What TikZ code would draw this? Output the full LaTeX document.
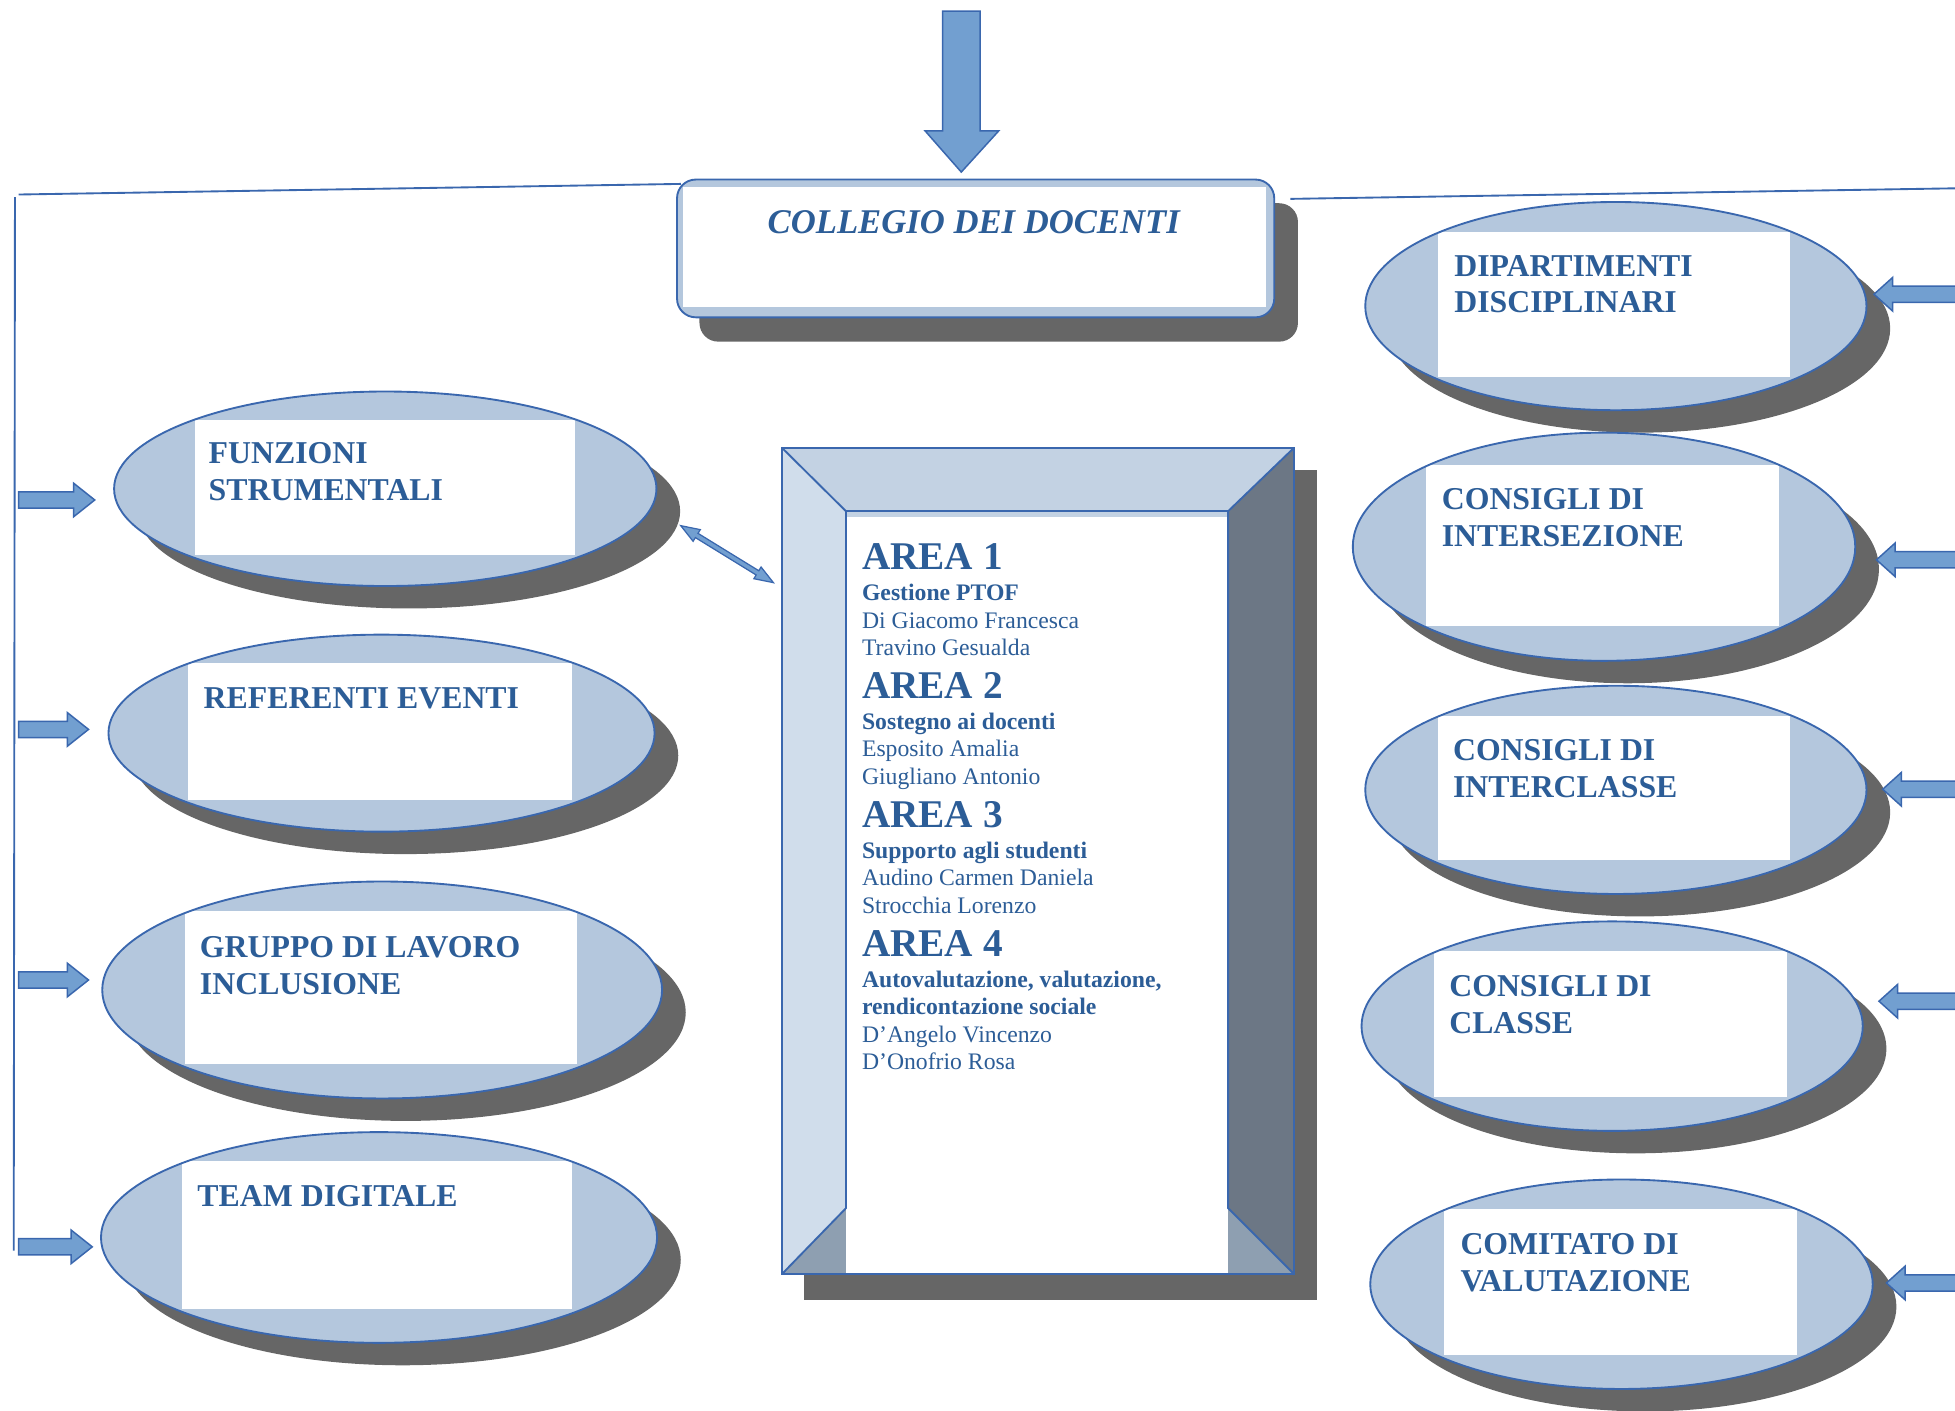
\documentclass[tikz,border=0pt]{standalone}
\usepackage{fontspec}
\setmainfont{Liberation Serif}
\usetikzlibrary{calc}
\definecolor{tblue}{HTML}{2C5D97}
\definecolor{lblue}{HTML}{3A67AE}
\definecolor{efill}{HTML}{B4C7DD}
\definecolor{shad}{HTML}{666666}
\definecolor{afill}{HTML}{729FD0}
\definecolor{bvtop}{HTML}{C3D2E3}
\definecolor{bvleft}{HTML}{D0DDEB}
\definecolor{bvright}{HTML}{6C7785}
\definecolor{bvbot}{HTML}{8E9FB1}
\newcommand\ellshape[8]{%
  \fill[shad] ({#1+19},{#2+18}) ellipse [x radius=#3, y radius=#4];
  \fill[efill] (#1,#2) ellipse [x radius=#3, y radius=#4];
  \begin{scope}
    \clip (#1,#2) ellipse [x radius=#3, y radius=#4];
    \fill[white] (#5,#6) rectangle (#7,#8);
  \end{scope}
  \draw[outl] (#1,#2) ellipse [x radius=#3, y radius=#4];
}
\newcommand\rightblk[3]{% #1 start x, #2 tip x, #3 centre y
  \draw[blockarrow] (#1,{#3-6.5}) -- ({#2-17},{#3-6.5}) -- ({#2-17},{#3-13.5}) -- (#2,#3)
    -- ({#2-17},{#3+13.5}) -- ({#2-17},{#3+6.5}) -- (#1,{#3+6.5}) -- cycle;
}
\newcommand\leftblk[3]{% #1 start x, #2 tip x, #3 centre y
  \draw[blockarrow] (#1,{#3-6.5}) -- ({#2+15},{#3-6.5}) -- ({#2+15},{#3-13.5}) -- (#2,#3)
    -- ({#2+15},{#3+13.5}) -- ({#2+15},{#3+6.5}) -- (#1,{#3+6.5}) -- cycle;
}
\tikzset{
  outl/.style={draw=lblue, line width=0.75pt},
  blockarrow/.style={fill=afill, draw=lblue, line width=0.6pt, line join=miter},
  conn/.style={draw=lblue, line width=0.75pt},
  lbl/.style={font=\fontsize{12.75}{15}\selectfont\bfseries, text=tblue, anchor=base west, inner sep=0pt},
  colltxt/.style={font=\fontsize{13.9}{16}\selectfont\bfseries\itshape, text=tblue, anchor=base, inner sep=0pt},
  areah/.style={font=\fontsize{15.75}{18}\selectfont\bfseries, text=tblue, anchor=base west, inner sep=0pt},
  areab/.style={font=\fontsize{9.5}{11}\selectfont\bfseries, text=tblue, anchor=base west, inner sep=0pt},
  arean/.style={font=\fontsize{9.5}{11}\selectfont, text=tblue, anchor=base west, inner sep=0pt},
}
\begin{document}
\begin{tikzpicture}[x=0.5pt,y=-0.5pt]
\useasboundingbox (0,0) rectangle (1568,1131);
\clip (0,0) rectangle (1568,1131);

% ---------- top arrow ----------
\coordinate (toptip) at (771,138);
\draw[blockarrow] (756,9) -- (786,9) -- (786,105) -- (801,105) -- (toptip) -- (742,105) -- (756,105) -- cycle;

% ---------- collegio box ----------
\fill[shad, rounded corners=7.5pt] (561,163) rectangle (1041,274);
\fill[efill, rounded corners=7.5pt] (543,144) rectangle (1022,254.5);
\begin{scope}
  \clip[rounded corners=7.5pt] (543,144) rectangle (1022,254.5);
  \fill[white] (548,150) rectangle (1015,246);
\end{scope}
\draw[outl, rounded corners=7.5pt] (543,144) rectangle (1022,254.5);
\node[colltxt] (coll) at (781,187) {COLLEGIO DEI DOCENTI};

% ---------- connector lines ----------
\coordinate (collL) at (546,147.5);
\coordinate (collR) at (1035,159.5);
\coordinate (lstart) at (15,156);
\coordinate (vtop) at (12,158);
\coordinate (lbottom) at (11,1003);
\coordinate (rend) at (1570,151);
\draw[conn] (lstart) -- (collL);
\draw[conn] (vtop) -- (lbottom);
\draw[conn] (collR) -- (rend);

% ---------- central bevel box ----------
\fill[shad] (645,377) rectangle (1056,1043);
\coordinate (otl) at (627,359); \coordinate (otr) at (1038,359);
\coordinate (obr) at (1038,1022); \coordinate (obl) at (627,1022);
\coordinate (itl) at (678.5,410); \coordinate (itr) at (985,410);
\coordinate (ibr) at (985,969); \coordinate (ibl) at (678.5,969);
\fill[bvtop] (otl) -- (otr) -- (itr) -- (itl) -- cycle;
\fill[bvleft] (otl) -- (itl) -- (ibl) -- (obl) -- cycle;
\fill[bvright] (otr) -- (obr) -- (ibr) -- (itr) -- cycle;
\fill[bvbot] (obl) -- (obr) -- (ibr) -- (ibl) -- cycle;
\fill[white] (678.5,410) rectangle (985,1022);
\fill[bvtop] (678.5,410) rectangle (985,415);
\draw[outl] (otl) -- (itl) -- (ibl) -- (obl);
\draw[outl] (otr) -- (itr) -- (ibr) -- (obr);
\draw[outl] (itl) -- (itr);
\draw[outl] (otl) rectangle (obr);

\node[areah] (a1) at (691,457) {AREA 1};
\node[areab] (a1b) at (691,482) {Gestione PTOF};
\node[arean] (a1n1) at (691,504) {Di Giacomo Francesca};
\node[arean] (a1n2) at (691,526) {Travino Gesualda};
\node[areah] (a2) at (691,560) {AREA 2};
\node[areab] (a2b) at (691,585) {Sostegno ai docenti};
\node[arean] (a2n1) at (691,607) {Esposito Amalia};
\node[arean] (a2n2) at (691,629.5) {Giugliano Antonio};
\node[areah] (a3) at (691,663.5) {AREA 3};
\node[areab] (a3b) at (691,688.5) {Supporto agli studenti};
\node[arean] (a3n1) at (691,710.5) {Audino Carmen Daniela};
\node[arean] (a3n2) at (691,733) {Strocchia Lorenzo};
\node[areah] (a4) at (691,767) {AREA 4};
\node[areab] (a4b) at (691,792) {Autovalutazione, valutazione,};
\node[areab] (a4c) at (691,814) {rendicontazione sociale};
\node[arean] (a4n1) at (691,836) {D’Angelo Vincenzo};
\node[arean] (a4n2) at (691,858) {D’Onofrio Rosa};

% ---------- left ellipses ----------
\ellshape{309}{392}{217.5}{78}{156}{337}{461}{445}
\node[lbl] (funz1) at (167,372) {FUNZIONI};
\node[lbl] (funz2) at (167,401.5) {STRUMENTALI};

\ellshape{306}{588}{219}{79}{151}{532}{459}{642}
\node[lbl] (ref) at (163,568) {REFERENTI EVENTI};

\ellshape{306.5}{794}{224.5}{87}{148}{731}{463}{853}
\node[lbl] (gru1) at (160,768) {GRUPPO DI LAVORO};
\node[lbl] (gru2) at (160,797.5) {INCLUSIONE};

\ellshape{304}{992.5}{223}{84.5}{146}{931}{459}{1050}
\node[lbl] (team) at (158,968) {TEAM DIGITALE};

% ---------- right ellipses ----------
\ellshape{1296}{245.5}{201}{83.5}{1153}{186}{1436}{302}
\node[lbl] (dip1) at (1166,222) {DIPARTIMENTI};
\node[lbl] (dip2) at (1166,251) {DISCIPLINARI};

\ellshape{1286.5}{438.5}{201.5}{91.5}{1144}{373}{1427}{502}
\node[lbl] (cin1) at (1156,409) {CONSIGLI DI};
\node[lbl] (cin2) at (1156,438) {INTERSEZIONE};

\ellshape{1296}{633.5}{201}{83.5}{1153}{574}{1436}{690}
\node[lbl] (ccl1) at (1165,610) {CONSIGLI DI};
\node[lbl] (ccl2) at (1165,639.5) {INTERCLASSE};

\ellshape{1293}{823}{201}{84}{1150}{763}{1433}{880}
\node[lbl] (cc1) at (1162,799) {CONSIGLI DI};
\node[lbl] (cc2) at (1162,828.5) {CLASSE};

\ellshape{1300.5}{1030}{201.5}{84}{1158}{970}{1441}{1087}
\node[lbl] (com1) at (1171,1006) {COMITATO DI};
\node[lbl] (com2) at (1171,1035.5) {VALUTAZIONE};

% ---------- side arrows ----------
\rightblk{15}{76}{401}
\rightblk{15}{71}{585}
\rightblk{15}{71}{786}
\rightblk{15}{74}{1000}
\leftblk{1585}{1503}{236}
\leftblk{1585}{1505}{449}
\leftblk{1585}{1510}{633}
\leftblk{1585}{1507}{803}
\leftblk{1585}{1513}{1029}

% ---------- double arrow between FUNZIONI and AREA box ----------
\coordinate (dA) at (546,421.6);
\coordinate (dB) at (620.3,467.3);
\path ($(dA)!7.5pt!(dB)$) coordinate (hA) ($(dB)!7.5pt!(dA)$) coordinate (hB);
\draw[blockarrow, line width=0.5pt] (dA) -- ($(hA)!2.75pt!90:(dB)$) -- ($(hA)!1pt!90:(dB)$)
  -- ($(hB)!1pt!-90:(dA)$) -- ($(hB)!2.75pt!-90:(dA)$) -- (dB)
  -- ($(hB)!2.75pt!90:(dA)$) -- ($(hB)!1pt!90:(dA)$)
  -- ($(hA)!1pt!-90:(dB)$) -- ($(hA)!2.75pt!-90:(dB)$) -- cycle;
\end{tikzpicture}
\end{document}
